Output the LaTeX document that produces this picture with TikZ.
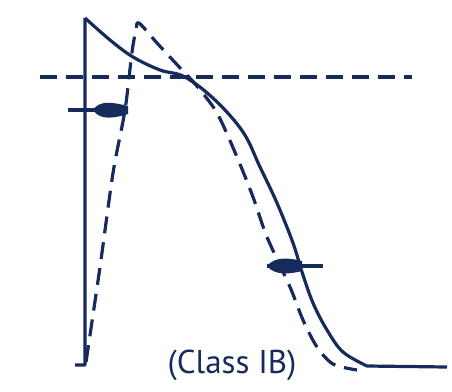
\documentclass[tikz,border=0pt]{standalone}
\usepackage{fontspec}
\setsansfont{PT Sans}
\definecolor{ink}{RGB}{22,42,92}
\begin{document}
\begin{tikzpicture}[x=1pt, y=-1pt, every node/.style={font=\sffamily\fontsize{33}{38}\selectfont, text=ink}]
  \useasboundingbox (0,0) rectangle (452,391);
  \tikzset{ap/.style={draw=ink, line width=3.2pt, line join=round},
           apdash/.style={ap, dash pattern=on 17pt off 9pt}}

  % threshold
  \draw[apdash, line width=3.4pt] (40,77) -- (412,77);

  % control action potential
  \draw[ap] (75,365) -- (85,365) -- (85,18)
    plot[smooth, tension=0.6] coordinates {(85,18) (110,40) (133,57) (160,70) (185,77)
      (215,100) (243,132) (260,167) (277,203) (293,243) (302,272) (313,303)
      (327,330) (343,352) (367,366)} -- (447,367);

  % with drug
  \draw[apdash] plot[smooth, tension=0.5] coordinates {(86,362) (100,267) (113,173)
      (125,110) (132,52) (136,30) (139,23) (157,43) (182,70) (196,85) (217,113)
      (237,157) (253,197) (267,237) (290,287) (303,320) (317,347) (333,364) (357,370)};

  % markers
  \draw[ap, line width=3.6pt] (68,110) -- (128,110);
  \fill[ink] (93,110) .. controls (100,99) and (115,103) .. (128,106)
    -- (128,114) .. controls (115,118) and (100,121) .. (93,110);
  \draw[ap, line width=3.6pt] (267,266) -- (323,266);
  \fill[ink] (267,266) .. controls (275,256) and (290,258) .. (302,261)
    -- (302,271) .. controls (290,274) and (275,276) .. (267,266);

  \node (drug) at (232,365) {(Class IB)};
\end{tikzpicture}
\end{document}
